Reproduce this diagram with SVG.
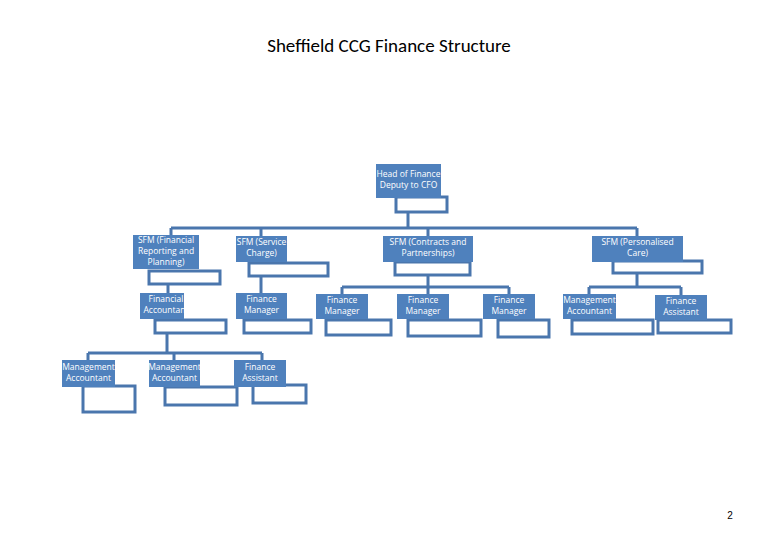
<svg xmlns="http://www.w3.org/2000/svg" width="780" height="540" viewBox="0 0 780 540">
<style>
.c{stroke:#4a76ad;stroke-width:3;fill:none}
.w{fill:#fff;stroke:#4a76ad;stroke-width:3}
.b{fill:#4f81bd}
.t{font-family:"Open Sans","Liberation Sans",sans-serif;font-size:8.5px;fill:#fff;text-anchor:middle}
</style>
<rect width="780" height="540" fill="#fff"/>
<text x="389" y="52" font-family="Carlito,'Open Sans','Liberation Sans',sans-serif" font-size="19" text-anchor="middle" fill="#000">Sheffield CCG Finance Structure</text>
<text x="730" y="519" font-family="'Liberation Sans',sans-serif" font-size="10" text-anchor="middle" fill="#000">2</text>
<g id="connectors" class="c">
<path d="M408 198V228M171 228H637M171 228V236M261 228V236M428 228V236M637 228V236"/>
<path d="M168 284V293M261 276V293"/>
<path d="M428 275V287M342 287H509M342 287V294M428 287V294M509 287V294"/>
<path d="M637 273V287M589 287H681M589 287V294M681 287V295"/>
<path d="M167 333V353M88 353H262M88 353V360M174 353V360M262 353V360"/>
</g>
<g id="head"><rect class="w" x="396" y="197" width="51" height="15"/><rect class="b" x="376" y="164" width="65" height="34"/><text class="t" x="408.5" y="177">Head of Finance</text><text class="t" x="408.5" y="188">Deputy to CFO</text></g>
<g id="sfm-frp"><rect class="w" x="149" y="271" width="71" height="13"/><rect class="b" x="133" y="235" width="66" height="34"/><text class="t" x="166" y="243">SFM (Financial</text><text class="t" x="166" y="254">Reporting and</text><text class="t" x="166" y="265">Planning)</text></g>
<g id="sfm-sc"><rect class="w" x="249" y="263" width="79" height="13"/><rect class="b" x="236" y="236" width="51" height="26"/><text class="t" x="261.5" y="245">SFM (Service</text><text class="t" x="261.5" y="256">Charge)</text></g>
<g id="sfm-cp"><rect class="w" x="395" y="262" width="75" height="13"/><rect class="b" x="383" y="236" width="90" height="26"/><text class="t" x="428" y="245">SFM (Contracts and</text><text class="t" x="428" y="256">Partnerships)</text></g>
<g id="sfm-pc"><rect class="w" x="613" y="261" width="89" height="12"/><rect class="b" x="592" y="236" width="91" height="26"/><text class="t" x="637.5" y="245">SFM (Personalised</text><text class="t" x="637.5" y="256">Care)</text></g>
<g id="fin-acc"><rect class="w" x="155" y="320" width="71" height="13"/><rect class="b" x="140" y="293" width="44" height="26"/><text class="t" x="166" y="302">Financial</text><text class="t" x="166" y="313">Accountant</text></g>
<g id="fm-sc"><rect class="w" x="244" y="320" width="67" height="13"/><rect class="b" x="236" y="293" width="51" height="26"/><text class="t" x="261.5" y="302">Finance</text><text class="t" x="261.5" y="313">Manager</text></g>
<g id="fm-c1"><rect class="w" x="326" y="320" width="65" height="15"/><rect class="b" x="316" y="294" width="52" height="25"/><text class="t" x="342" y="303">Finance</text><text class="t" x="342" y="314">Manager</text></g>
<g id="fm-c2"><rect class="w" x="408" y="320" width="73" height="16"/><rect class="b" x="397" y="294" width="52" height="25"/><text class="t" x="423" y="303">Finance</text><text class="t" x="423" y="314">Manager</text></g>
<g id="fm-c3"><rect class="w" x="498" y="320" width="51" height="17"/><rect class="b" x="483" y="294" width="52" height="25"/><text class="t" x="509" y="303">Finance</text><text class="t" x="509" y="314">Manager</text></g>
<g id="ma-pc"><rect class="w" x="572" y="320" width="81" height="14"/><rect class="b" x="563" y="294" width="53" height="25"/><text class="t" x="589.5" y="303">Management</text><text class="t" x="589.5" y="314">Accountant</text></g>
<g id="fa-pc"><rect class="w" x="658" y="320" width="73" height="13"/><rect class="b" x="655" y="295" width="52" height="25"/><text class="t" x="681" y="304">Finance</text><text class="t" x="681" y="315">Assistant</text></g>
<g id="ma1"><rect class="w" x="83" y="386" width="52" height="26"/><rect class="b" x="62" y="360" width="53" height="27"/><text class="t" x="88.5" y="370">Management</text><text class="t" x="88.5" y="381">Accountant</text></g>
<g id="ma2"><rect class="w" x="165" y="387" width="72" height="18"/><rect class="b" x="149" y="360" width="51" height="27"/><text class="t" x="174.5" y="370">Management</text><text class="t" x="174.5" y="381">Accountant</text></g>
<g id="fa1"><rect class="w" x="253" y="385" width="53" height="18"/><rect class="b" x="234" y="360" width="52" height="27"/><text class="t" x="260" y="370">Finance</text><text class="t" x="260" y="381">Assistant</text></g>
</svg>
